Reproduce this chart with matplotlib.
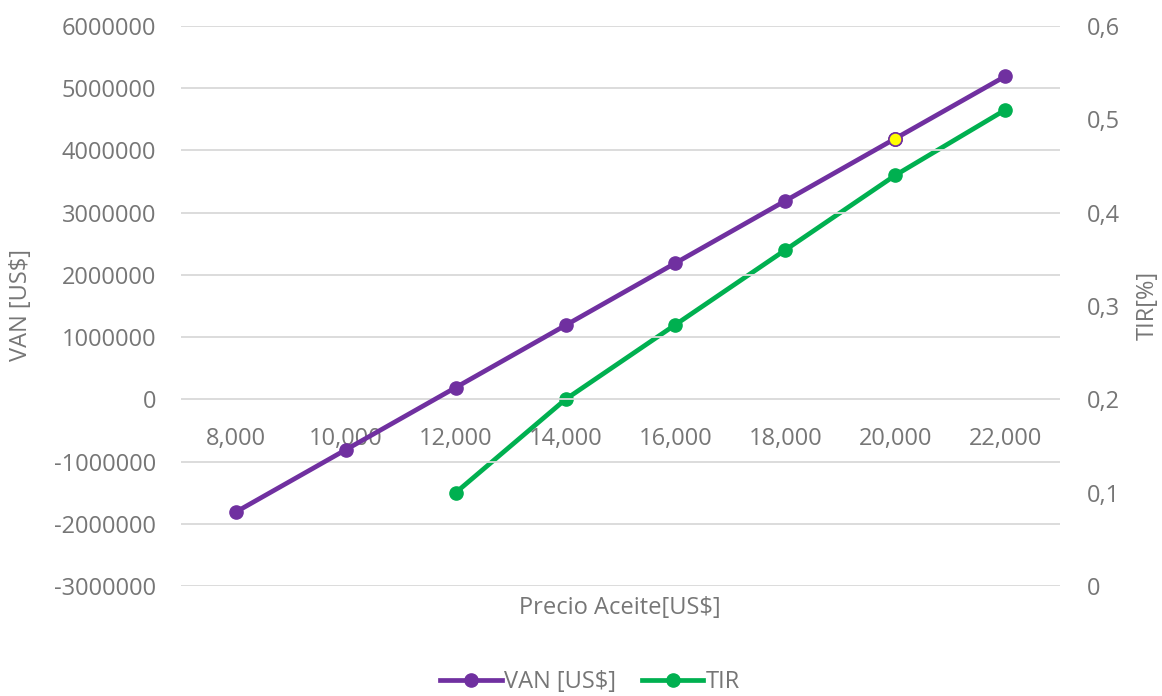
import matplotlib
matplotlib.use("Agg")
import matplotlib.pyplot as plt
from matplotlib.ticker import FixedLocator, FuncFormatter
from matplotlib.lines import Line2D

# Data
precios = ["8,000", "10,000", "12,000", "14,000", "16,000", "18,000", "20,000", "22,000"]
van = [-1810000, -810000, 190000, 1190000, 2190000, 3190000, 4190000, 5190000]
tir_precios = ["12,000", "14,000", "16,000", "18,000", "20,000", "22,000"]
tir = [0.10, 0.20, 0.28, 0.36, 0.44, 0.51]
highlight = "20,000"

PURPLE = "#7030A0"
GREEN = "#00B050"
TEXT = "#767676"
GRID = "#D9D9D9"
FONT = "Open Sans"
FS = 17

plt.rcParams["font.family"] = [FONT, "DejaVu Sans"]

fig = plt.figure(figsize=(11.62, 6.96), dpi=100)
W, H = 1162, 696
ax = fig.add_axes([181 / W, 1 - 586 / H, (1060 - 181) / W, (586 - 26) / H])
ax2 = ax.twinx()

xpos = {p: i for i, p in enumerate(precios)}
xv = [xpos[p] for p in precios]
xt = [xpos[p] for p in tir_precios]

ax.set_xlim(-0.5, len(precios) - 0.5)
ax.set_ylim(-3000000, 6000000)
ax2.set_ylim(0, 0.6)

# Grid
for y in range(-3000000, 6000001, 1000000):
    ax.axhline(y, color=GRID, lw=1.3, zorder=0)

for s in ax.spines.values():
    s.set_visible(False)
for s in ax2.spines.values():
    s.set_visible(False)

ax.yaxis.set_major_locator(FixedLocator(range(-3000000, 6000001, 1000000)))
ax.yaxis.set_major_formatter(FuncFormatter(lambda v, p: f"{int(v)}"))
ax.tick_params(axis="y", length=0, pad=18, labelsize=FS, labelcolor=TEXT)

ax2.yaxis.set_major_locator(FixedLocator([0, 0.1, 0.2, 0.3, 0.4, 0.5, 0.6]))
ax2.yaxis.set_major_formatter(FuncFormatter(lambda v, p: f"{v:.1f}".replace(".", ",") if v else "0"))
ax2.tick_params(axis="y", length=0, pad=19, labelsize=FS, labelcolor=TEXT)

# Category labels sit just under the zero line
ax.spines["bottom"].set_position(("data", 0))
ax.set_xticks(xv)
ax.set_xticklabels(precios)
ax.tick_params(axis="x", length=0, pad=20, labelsize=FS, labelcolor=TEXT)
for lbl in ax.get_xticklabels():
    lbl.set_zorder(1)

ax.set_zorder(ax2.get_zorder() + 1)
ax.patch.set_visible(False)

ax.plot(xv, van, color=PURPLE, lw=3.4, marker="o", ms=9.5, zorder=5)
hi = xpos[highlight]
ax.plot([hi], [van[hi]], marker="o", ms=9.5, color="#FFFF00", mec=PURPLE, mew=1.2, zorder=6, ls="none")
ax2.plot(xt, tir, color=GREEN, lw=3.4, marker="o", ms=9.5, zorder=5)

# Axis titles
fig.text(21 / W, 1 - 305 / H, "VAN [US$]", rotation=90, ha="center", va="center", fontsize=FS, color=TEXT)
fig.text(1148 / W, 1 - 305 / H, "TIR[%]", rotation=90, ha="center", va="center", fontsize=FS, color=TEXT)
fig.text(620 / W, 1 - 608 / H, "Precio Aceite[US$]", ha="center", va="center", fontsize=FS, color=TEXT)

handles = [
    Line2D([], [], color=PURPLE, lw=3.4, marker="o", ms=9.5),
    Line2D([], [], color=GREEN, lw=3.4, marker="o", ms=9.5),
]
fig.legend(handles, ["VAN [US$]", "TIR"], loc="center", bbox_to_anchor=(590 / W, 1 - 682 / H),
           ncol=2, frameon=False, fontsize=FS, labelcolor=TEXT, handlelength=2.6,
           handletextpad=0.1, columnspacing=1.1)

fig.savefig("out.png", dpi=100)
